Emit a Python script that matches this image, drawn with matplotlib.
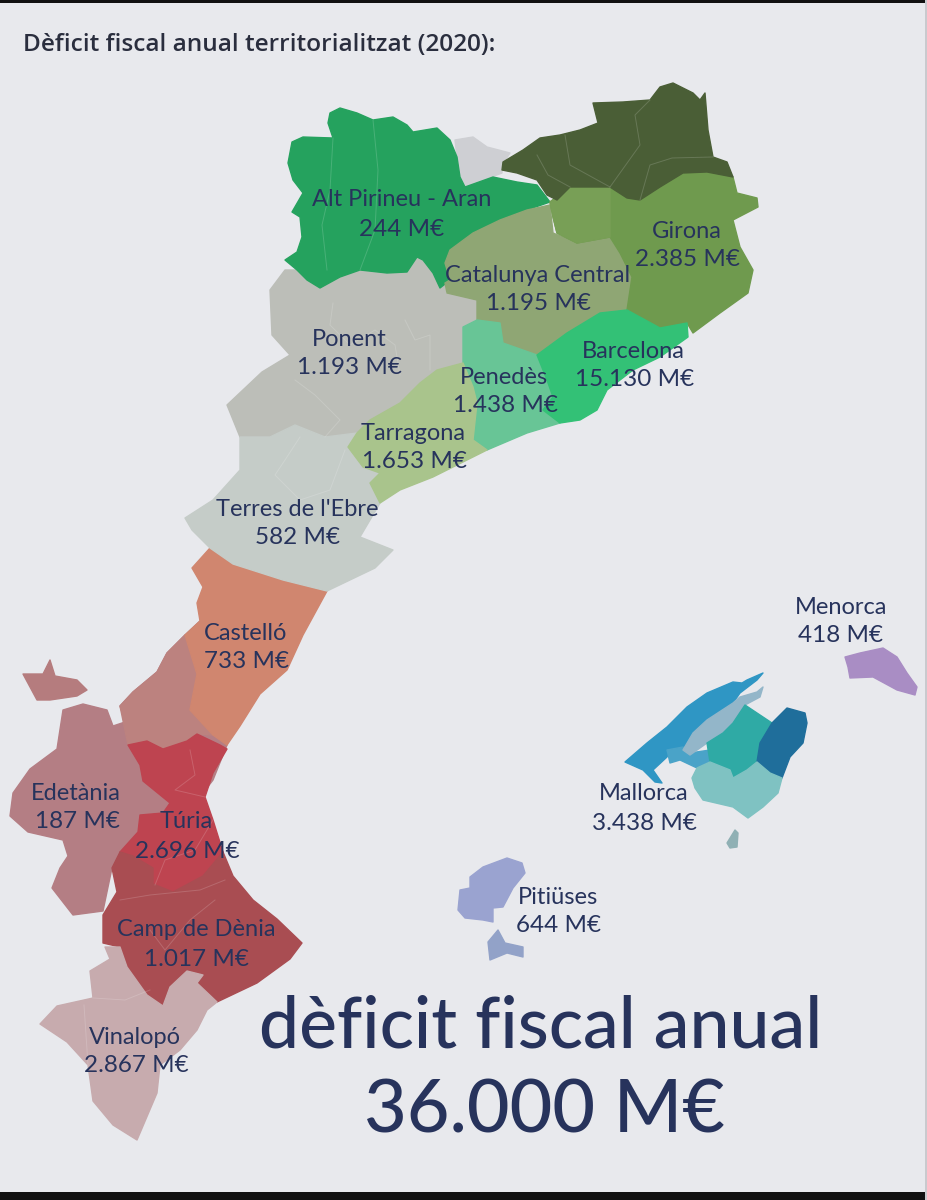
"""
Deficit fiscal anual territorialitzat (2020)
Carte redessinee avec des polygones, coordonnees lues en pixels sur l'image
"""
import matplotlib
matplotlib.use("Agg")
import matplotlib.pyplot as plt

# Contours des regions (pixels de l'image)
andorra = [(455,140),(473,137),(487,147),(510,153),(502,165),(502,173),(465,187),(460,177),(457,157)]
alt_pirineu = [(330,113),(340,108),(357,113),(373,120),(393,117),(407,125),(413,132),(437,128),(450,140),(457,157),(460,177),(465,187),(493,177),(517,182),(537,185),(550,202),(527,210),(500,220),(473,233),(450,250),(445,263),(450,280),(440,288),(433,273),(423,260),(417,257),(407,272),(387,273),(360,270),(340,277),(320,288),(307,280),(297,270),(285,260),(297,252),(302,237),(300,217),(292,212),(303,193),(293,180),(288,163),(292,142),(303,137),(333,138),(328,123)]
pirineu_est = [(593,103),(623,102),(650,100),(660,87),(673,83),(693,93),(700,100),(705,93),(708,130),(713,157),(727,162),(733,177),(707,172),(683,173),(660,187),(640,200),(627,198),(610,187),(570,187),(557,200),(547,195),(537,180),(517,173),(502,170),(503,162),(523,150),(540,138),(560,135),(580,130),(598,123)]
girona = [(550,202),(570,187),(610,187),(627,198),(640,200),(660,187),(683,173),(707,172),(733,177),(737,193),(757,198),(758,207),(733,220),(740,247),(753,270),(748,293),(720,313),(693,333),(687,323),(660,328),(627,310),(632,277),(620,253),(610,237),(577,243),(557,233),(553,217)]
girona_ouest = [(550,202),(570,187),(610,187),(610,237),(577,243),(557,233),(553,217)]
cat_central = [(450,250),(473,233),(500,220),(527,210),(550,205),(553,233),(577,243),(610,237),(620,253),(632,277),(627,310),(600,313),(567,333),(537,355),(503,343),(500,323),(477,320),(477,300),(447,293),(445,283),(450,280),(445,263)]
barcelona = [(600,313),(627,310),(660,328),(687,323),(688,337),(660,357),(633,370),(607,390),(597,410),(580,420),(560,423),(543,410),(553,397),(547,380),(537,355),(567,333)]
penedes = [(463,327),(477,320),(500,323),(503,343),(537,355),(547,380),(553,397),(543,410),(560,423),(527,433),(487,450),(473,440),(477,403),(473,387),(463,363)]
tarragona = [(420,383),(437,370),(463,363),(473,387),(477,403),(473,440),(487,450),(467,460),(433,477),(400,490),(380,503),(370,483),(380,473),(363,467),(348,447),(357,433),(370,420),(400,403)]
ponent = [(297,270),(307,280),(320,288),(340,277),(360,270),(387,273),(407,272),(417,257),(423,260),(433,273),(440,288),(450,280),(445,293),(477,300),(477,320),(463,327),(463,363),(437,370),(420,383),(400,403),(370,420),(357,433),(325,437),(295,425),(270,437),(240,437),(227,405),(262,372),(290,355),(272,335),(270,290),(285,270)]
ebre = [(240,437),(270,437),(295,425),(325,437),(357,433),(348,447),(363,467),(380,473),(370,483),(380,503),(360,537),(393,550),(375,568),(327,591),(283,580),(233,564),(210,548),(192,530),(185,518),(213,500),(240,470)]
edetania = [(63,710),(83,704),(107,710),(113,726),(125,722),(120,706),(133,692),(157,672),(167,653),(185,635),(200,621),(215,680),(227,745),(213,780),(175,830),(140,860),(112,868),(103,911),(73,915),(52,888),(60,868),(68,856),(63,840),(28,832),(10,816),(13,793),(30,769),(57,749)]
alt_millars = [(120,706),(133,692),(157,672),(167,653),(185,635),(197,674),(190,710),(213,735),(197,734),(187,741),(163,749),(147,741),(128,745)]
rincon = [(23,674),(43,674),(50,660),(55,676),(77,680),(87,690),(77,696),(50,700),(37,700)]
castello = [(210,548),(233,564),(283,580),(327,591),(303,635),(287,670),(260,694),(240,726),(227,745),(213,735),(190,710),(197,674),(185,635),(200,621),(197,603),(203,587),(192,568)]
turia = [(128,745),(147,741),(163,749),(187,741),(197,734),(220,745),(227,749),(213,773),(205,797),(213,820),(223,852),(203,876),(173,892),(153,884),(153,868),(133,856),(120,852),(138,832),(140,815),(163,813),(170,803),(143,781),(140,765)]
camp_denia = [(120,852),(133,856),(153,868),(153,884),(173,892),(203,876),(223,852),(233,876),(253,900),(277,919),(302,943),(290,959),(257,983),(217,1002),(197,983),(203,975),(187,971),(170,987),(163,1006),(147,995),(127,967),(120,947),(103,943),(103,915),(117,892),(112,868)]
vinalopo = [(105,947),(120,947),(127,967),(147,995),(163,1006),(170,987),(187,971),(203,975),(197,983),(217,1002),(207,1010),(197,1030),(180,1050),(160,1065),(157,1093),(140,1133),(137,1140),(113,1125),(93,1101),(88,1065),(67,1042),(40,1024),(57,1006),(93,998),(90,971),(110,959)]
menorca = [(845,657),(860,653),(883,648),(897,657),(907,673),(917,687),(915,695),(897,690),(873,677),(850,678),(848,667)]
mall_nord = [(625,762),(647,743),(667,727),(687,707),(707,693),(733,682),(742,683),(747,680),(763,673),(757,680),(740,693),(733,703),(703,727),(687,747),(670,750),(667,757),(653,770),(662,783),(655,782),(643,770)]
mall_calvia = [(667,750),(683,747),(690,753),(710,750),(710,762),(697,768),(680,760),(670,763)]
mall_raiguer = [(683,750),(693,733),(707,720),(733,703),(740,697),(757,692),(763,687),(760,697),(745,705),(733,723),(723,733),(707,743),(690,755)]
mall_pla = [(745,705),(763,717),(772,723),(760,743),(757,762),(747,770),(733,778),(730,770),(710,762),(707,743),(723,733),(733,723)]
mall_llevant = [(772,723),(787,708),(805,713),(807,723),(803,743),(790,757),(782,778),(770,773),(757,762),(760,743)]
mall_migjorn = [(692,778),(697,768),(710,762),(730,770),(733,778),(747,770),(757,762),(770,773),(782,778),(778,793),(763,807),(748,818),(733,807),(703,800),(695,788)]
cabrera = [(727,843),(735,830),(738,833),(737,847),(730,848)]
eivissa = [(470,877),(483,867),(507,858),(522,863),(525,873),(513,888),(503,907),(493,908),(493,922),(483,920),(465,918),(458,910),(460,890),(470,888)]
formentera = [(488,942),(498,930),(505,943),(523,947),(523,957),(507,953),(490,960)]

# Frontieres internes (comarques)
frontieres = [
    [(327,270),(322,225),(330,190),(333,138)],
    [(373,120),(378,170),(375,230),(360,270)],
    [(333,303),(330,325),(350,345),(375,330),(395,345),(400,375)],
    [(295,380),(315,395),(340,420),(325,437)],
    [(405,320),(415,340),(430,335),(430,370)],
    [(300,437),(285,460),(275,475),(300,500),(330,490),(345,450)],
    [(610,187),(640,145),(635,115),(650,100)],
    [(565,135),(570,165),(610,187)],
    [(537,155),(548,175),(570,187)],
    [(640,200),(650,165),(672,158),(713,157)],
    [(155,885),(165,860),(195,850),(213,820)],
    [(190,750),(195,775),(175,790),(205,797)],
    [(120,900),(150,895),(200,890),(225,880)],
    [(150,930),(165,950),(190,920),(215,900)],
    [(93,998),(125,1000),(150,990)],
    [(84,1005),(88,1065)],
]

# Etiquettes
noms = ["Alt Pirineu - Aran","Girona","Catalunya Central","Ponent","Barcelona","Penedès","Tarragona","Terres de l'Ebre","Castelló","Menorca","Mallorca","Edetània","Túria","Pitiüses","Camp de Dènia","Vinalopó"]
montants = ["244 M€","2.385 M€","1.195 M€","1.193 M€","15.130 M€","1.438 M€","1.653 M€","582 M€","733 M€","418 M€","3.438 M€","187 M€","2.696 M€","644 M€","1.017 M€","2.867 M€"]
nom_x = [402,687,538,349,633,504,413,297,246,841,644,76,186,558,196,135]
nom_y = [200,232,275,339,352,378,433,509,634,607,794,793,822,897,930,1037]
montant_x = [402,687,538,349,635,505,414,298,247,841,644,77,187,559,196,136]
montant_y = [230,260,303,368,380,406,461,537,662,636,823,822,851,926,959,1066]

titre = "Dèficit fiscal anual territorialitzat (2020):"
total_texte = "dèficit fiscal anual"
total_valeur = "36.000 M€"

fond = "#E8E9ED"
encre = "#27335C"

fig = plt.figure(figsize=(9.28,12),dpi=100,facecolor=fond)
ax = fig.add_axes([0,0,1,1])
ax.set_xlim(0,928)
ax.set_ylim(1200,0)
ax.axis("off")

# Ordre de dessin : le dernier passe au dessus
regions = [
    (edetania,"#B47E84"),(alt_millars,"#BC827F"),(rincon,"#B57C7E"),(castello,"#D0866F"),(andorra,"#CECFD3"),
    (ponent,"#BCBEB8"),(ebre,"#C5CCC8"),(alt_pirineu,"#25A25E"),(cat_central,"#8FA674"),
    (girona,"#6F9A4E"),(girona_ouest,"#789F56"),(pirineu_est,"#4A5E36"),(penedes,"#68C596"),
    (tarragona,"#A9C48C"),(barcelona,"#33C176"),(turia,"#BE4450"),(camp_denia,"#A94D52"),
    (vinalopo,"#C7ABAE"),(menorca,"#A98DC4"),(mall_nord,"#2F96C4"),(mall_calvia,"#4AA3C8"),
    (mall_raiguer,"#93B6C9"),(mall_pla,"#2FAAA5"),(mall_llevant,"#1F6E9B"),(mall_migjorn,"#7FC2C2"),
    (cabrera,"#8FB0B4"),(eivissa,"#9AA3D0"),(formentera,"#92A2C8"),
]
for contour,couleur in regions:
    ax.fill(*zip(*contour),color=couleur,linewidth=1.0,joinstyle="round")

for ligne in frontieres:
    ax.plot(*zip(*ligne),color="white",alpha=0.16,linewidth=0.7)

# Bandes noires de la capture d'ecran
ax.axhspan(0,3,color="#111111",linewidth=0)
ax.axhspan(1192,1200,color="#111111",linewidth=0)
ax.axvspan(925,928,color="#C9CACE",linewidth=0)

for i in range(len(noms)):
    ax.text(nom_x[i],nom_y[i],noms[i],family="Lato",fontsize=17,color=encre,ha="center",va="center")
    ax.text(montant_x[i],montant_y[i],montants[i],family="Lato",fontsize=17.5,color=encre,ha="center",va="center")

ax.text(23,45,titre,family="Open Sans",fontsize=17.6,weight="semibold",color="#2A2E3E",ha="left",va="center")
ax.text(541,1027,total_texte,family="Lato",fontsize=51.5,weight="medium",color=encre,ha="center",va="center")
ax.text(544,1112,total_valeur,family="Lato",fontsize=53,weight="medium",color=encre,ha="center",va="center")

fig.savefig("out.png",dpi=100,facecolor=fond)
